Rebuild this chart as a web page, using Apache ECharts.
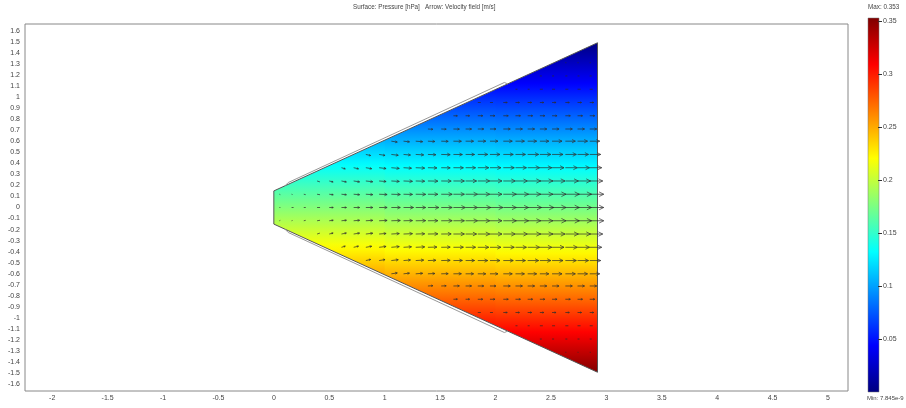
<!DOCTYPE html>
<html><head><meta charset="utf-8">
<script src="https://cdn.jsdelivr.net/npm/echarts@6/dist/echarts.min.js"></script>
<style>html,body{margin:0;padding:0;background:#fff}#c{width:906px;height:408px}</style>
</head><body><div id="c"></div>
<script>
// ---- tick labels ----
const xTicks = [-2,-1.5,-1,-0.5,0,0.5,1,1.5,2,2.5,3,3.5,4,4.5,5];
const yTicks = [-1.6,-1.5,-1.4,-1.3,-1.2,-1.1,-1,-0.9,-0.8,-0.7,-0.6,-0.5,-0.4,-0.3,-0.2,-0.1,0,0.1,0.2,0.3,0.4,0.5,0.6,0.7,0.8,0.9,1,1.1,1.2,1.3,1.4,1.5,1.6];
const cbTicks = [0.05,0.1,0.15,0.2,0.25,0.3,0.35];
const pMin = 7.845e-9, pMax = 0.353;

// ---- geometry (data units) ----
const domain = [[0,0.15],[2.92,1.49],[2.92,-1.49],[0,-0.15]];
const slitUpper = [[0.1,0.196],[0.13,0.226],[2.08,1.131],[2.11,1.118]];
const slitLower = [[0.1,-0.196],[0.13,-0.226],[2.08,-1.131],[2.11,-1.118]];

// ---- pressure surface samples [hPa] ----
const pressureX = [0, 1, 2, 2.92];
const pressureY = [1.5, 1, 0.5, 0, -0.5, -1, -1.5];
const pressureAtX0 = [0.000, 0.060, 0.120, 0.180, 0.240, 0.298, 0.355];
const pressureAtX1 = [0.000, 0.059, 0.118, 0.176, 0.236, 0.295, 0.353];
const pressureAtX2 = [0.000, 0.058, 0.117, 0.174, 0.234, 0.294, 0.353];
const pressureAtX3 = [0.000, 0.058, 0.116, 0.172, 0.232, 0.293, 0.353];
const pressureCols = [pressureAtX0, pressureAtX1, pressureAtX2, pressureAtX3];

// ---- velocity arrows ----
const arrowX = [0.05,0.16,0.27,0.39,0.5,0.61,0.72,0.83,0.95,1.06,1.17,1.28,1.39,1.51,1.62,1.73,1.84,1.95,2.07,2.18,2.29,2.4,2.51,2.63,2.74,2.85];
const arrowRowY = [0,0.12,0.24,0.36,0.48,0.6,0.71,0.83,0.95,1.07,1.19,1.31]; // |y| of rows
const speedRow0  = [1,2,2,3,4,5,6,7,8,9,10,10,11,11,12,12,13,13,13,13,14,14,14,14,14,14];
const speedRow1  = [1,1,2,3,4,5,6,7,8,9,9,10,10,11,11,12,12,12,13,13,13,13,14,14,14,14];
const speedRow2  = [0,0,0,3,4,5,6,7,7,8,9,9,10,10,11,11,12,12,12,12,13,13,13,13,13,13];
const speedRow3  = [0,0,0,0,0,4,5,6,7,8,8,9,9,9,10,10,11,11,11,11,12,12,12,12,12,12];
const speedRow4  = [0,0,0,0,0,0,0,5,6,7,7,8,8,9,9,9,10,10,10,10,11,11,11,11,11,11];
const speedRow5  = [0,0,0,0,0,0,0,0,0,6,6,7,7,7,8,8,8,8,9,9,9,9,10,10,10,10];
const speedRow6  = [0,0,0,0,0,0,0,0,0,0,0,0,5,5,6,6,6,6,7,7,7,7,7,7,7,7];
const speedRow7  = [0,0,0,0,0,0,0,0,0,0,0,0,0,0,4,4,5,5,5,5,5,5,5,5,5,5];
const speedRow8  = [0,0,0,0,0,0,0,0,0,0,0,0,0,0,0,0,3,3,4,4,4,4,4,4,4,4];
const speedRow9  = [0,0,0,0,0,0,0,0,0,0,0,0,0,0,0,0,0,0,0,2,2,3,3,3,3,3];
const speedRow10 = [0,0,0,0,0,0,0,0,0,0,0,0,0,0,0,0,0,0,0,0,0,2,2,2,2,2];
const speedRow11 = [0,0,0,0,0,0,0,0,0,0,0,0,0,0,0,0,0,0,0,0,0,0,0,1,1,1];
const speedRows = [speedRow0,speedRow1,speedRow2,speedRow3,speedRow4,speedRow5,speedRow6,speedRow7,speedRow8,speedRow9,speedRow10,speedRow11];
// slope toward the centre line for the outermost row, per column
const arrowTilt = [-0.6,-0.55,-0.5,-0.45,-0.4,-0.35,-0.3,-0.25,-0.2,-0.16,-0.12,-0.09,-0.06,-0.04,-0.02,-0.01,0,0,0,0,0,0,0,0,0,0];

// ---- style ----
const arrowScale = 0.009;
const jetColors = ['#00007f','#0000ff','#007fff','#00ffff','#7fff7f','#ffff00','#ff7f00','#ff0000','#7f0000'];
const FONT = 'Liberation Sans, Arial, sans-serif';
const TXT = '#444';

function hexRgb(h){return [parseInt(h.substr(1,2),16),parseInt(h.substr(3,2),16),parseInt(h.substr(5,2),16)];}
const jetRgb = jetColors.map(hexRgb);
function jet(p){
  let t=(p-pMin)/(pMax-pMin); t=Math.max(0,Math.min(1,t));
  const n=jetRgb.length-1, f=t*n, i=Math.min(n-1,Math.floor(f)), a=f-i;
  const c=jetRgb[i].map((v,k)=>Math.round(v+(jetRgb[i+1][k]-v)*a));
  return 'rgb('+c.join(',')+')';
}
function upperAt(x){const a=domain[0],b=domain[1];return a[1]+(b[1]-a[1])*(x-a[0])/(b[0]-a[0]);}
function lowerAt(x){const a=domain[3],b=domain[2];return a[1]+(b[1]-a[1])*(x-a[0])/(b[0]-a[0]);}

const stripData = [];
for(let i=0;i<pressureX.length-1;i++) stripData.push([pressureX[i],pressureX[i+1],i]);

const arrowData = [];
for(let k=0;k<arrowRowY.length;k++){
  for(let j=0;j<arrowX.length;j++){
    const s=speedRows[k][j]; if(!s) continue;
    const ys = k===0?[0]:[arrowRowY[k],-arrowRowY[k]];
    ys.forEach(y=>{
      const half=upperAt(arrowX[j]);
      arrowData.push([arrowX[j],y,s,arrowTilt[j]*y/half]);
    });
  }
}

const tStyle = {fontSize:6.3,fontWeight:'normal',color:TXT,fontFamily:FONT};
const chart = echarts.init(document.getElementById('c'));
chart.setOption({
  animation:false,
  backgroundColor:'#fff',
  title:[
    {text:'Surface: Pressure [hPa]   Arrow: Velocity field [m/s]',left:353,top:4,padding:0,textStyle:tStyle},
    {text:'Max: 0.353',left:868,top:4,padding:0,textStyle:tStyle},
    {text:'Min: 7.845e-9',left:867,top:395,padding:0,textStyle:Object.assign({},tStyle,{fontSize:6})}
  ],
  grid:[
    {left:25,top:24,width:823,height:367,show:true,borderColor:'#888',borderWidth:1,backgroundColor:'#fff'},
    {left:868,top:18,width:11,height:374}
  ],
  xAxis:[
    {type:'value',gridIndex:0,min:-2.245,max:5.18,axisLine:{show:false},axisTick:{show:false},splitLine:{show:false},
     axisLabel:{customValues:xTicks,fontSize:7,color:TXT,fontFamily:FONT,margin:4}},
    {type:'value',gridIndex:1,min:0,max:1,show:false}
  ],
  yAxis:[
    {type:'value',gridIndex:0,min:-1.66,max:1.66,axisLine:{show:false},axisTick:{show:false},splitLine:{show:false},
     axisLabel:{customValues:yTicks,fontSize:7,color:TXT,fontFamily:FONT,margin:5}},
    {type:'value',gridIndex:1,min:0,max:0.353,position:'right',axisLine:{show:false},splitLine:{show:false},
     axisTick:{show:false},
     axisLabel:{customValues:cbTicks,fontSize:7,color:TXT,fontFamily:FONT,margin:4}}
  ],
  series:[
    {type:'custom',xAxisIndex:0,yAxisIndex:0,z:1,silent:true,data:stripData,encode:{x:[0,1]},
     renderItem:function(params,api){
       const i=api.value(2), x0=api.value(0), last=(i===pressureX.length-2);
       const x1=api.value(1)+(last?0:0.02);
       const pts=[[x0,upperAt(x0)],[x1,upperAt(x1)],[x1,lowerAt(x1)],[x0,lowerAt(x0)]].map(p=>api.coord(p));
       const yTop=pressureY[0], yBot=pressureY[pressureY.length-1];
       const pxTop=api.coord([0,yTop])[1], pxBot=api.coord([0,yBot])[1];
       const A=pressureCols[i], B=pressureCols[i+1];
       const stops=[];
       for(let r=0;r<pressureY.length-1;r++){
         const pa=(A[r]+B[r])/2, pb=(A[r+1]+B[r+1])/2;
         const sub=12;
         for(let s=0;s<sub;s++){
           const f=s/sub, y=pressureY[r]+(pressureY[r+1]-pressureY[r])*f;
           stops.push({offset:(yTop-y)/(yTop-yBot),color:jet(pa+(pb-pa)*f)});
         }
       }
       const r=pressureY.length-1;
       stops.push({offset:1,color:jet((A[r]+B[r])/2)});
       return {type:'polygon',shape:{points:pts},
         style:{fill:{type:'linear',x:0,y:pxTop,x2:0,y2:pxBot,global:true,colorStops:stops},stroke:null}};
     }},
    {type:'line',xAxisIndex:0,yAxisIndex:0,z:2,silent:true,showSymbol:false,data:domain.concat([domain[0]]),
     lineStyle:{color:'#555',width:1}},
    {type:'line',xAxisIndex:0,yAxisIndex:0,z:2,silent:true,showSymbol:false,data:slitUpper,lineStyle:{color:'#999',width:1}},
    {type:'line',xAxisIndex:0,yAxisIndex:0,z:2,silent:true,showSymbol:false,data:slitLower,lineStyle:{color:'#999',width:1}},
    {type:'custom',xAxisIndex:0,yAxisIndex:0,z:3,silent:true,data:arrowData,encode:{x:0,y:1},
     renderItem:function(params,api){
       const x=api.value(0), y=api.value(1), s=api.value(2), t=api.value(3);
       const n=Math.sqrt(1+t*t);
       const dx=s*arrowScale/n, dy=s*arrowScale*t/n;
       const p0=api.coord([x,y]), p1=api.coord([x+dx,y+dy]);
       const vx=p1[0]-p0[0], vy=p1[1]-p0[1], len=Math.hypot(vx,vy)||1;
       const ux=vx/len, uy=vy/len;
       const children=[{type:'line',shape:{x1:p0[0],y1:p0[1],x2:p1[0],y2:p1[1]},style:{stroke:'#2a2a2a',lineWidth:0.7}}];
       if(len>=3){
         const hl=Math.min(5,Math.max(1.5,len*0.33)), hw=hl*0.5;
         const bx=p1[0]-ux*hl, by=p1[1]-uy*hl;
         children.push({type:'polyline',shape:{points:[[bx-uy*hw,by+ux*hw],[p1[0],p1[1]],[bx+uy*hw,by-ux*hw]]},
           style:{stroke:'#333',lineWidth:0.7,fill:null}});
       }
       return {type:'group',children:children};
     }},
    {type:'custom',xAxisIndex:1,yAxisIndex:1,z:2,silent:true,data:[[0,pMin,1,pMax]],encode:{x:[0,2],y:[1,3]},
     renderItem:function(params,api){
       const a=api.coord([api.value(0),api.value(3)]), b=api.coord([api.value(2),api.value(1)]);
       const n=jetColors.length-1;
       const stops=jetColors.map((c,i)=>({offset:1-i/n,color:c}));
       return {type:'rect',shape:{x:a[0],y:a[1],width:b[0]-a[0],height:b[1]-a[1]},
         style:{fill:{type:'linear',x:0,y:0,x2:0,y2:1,colorStops:stops},stroke:'#777',lineWidth:0.5}};
     }},
    {type:'custom',xAxisIndex:1,yAxisIndex:1,z:3,silent:true,data:cbTicks.map(v=>[1,v]),encode:{x:0,y:1},
     renderItem:function(params,api){
       const p=api.coord([api.value(0),api.value(1)]);
       const y=Math.round(p[1])+0.5;
       return {type:'line',shape:{x1:p[0]-1,y1:y,x2:p[0]+3,y2:y},style:{stroke:'#333',lineWidth:1}};
     }}
  ]
});
</script></body></html>
